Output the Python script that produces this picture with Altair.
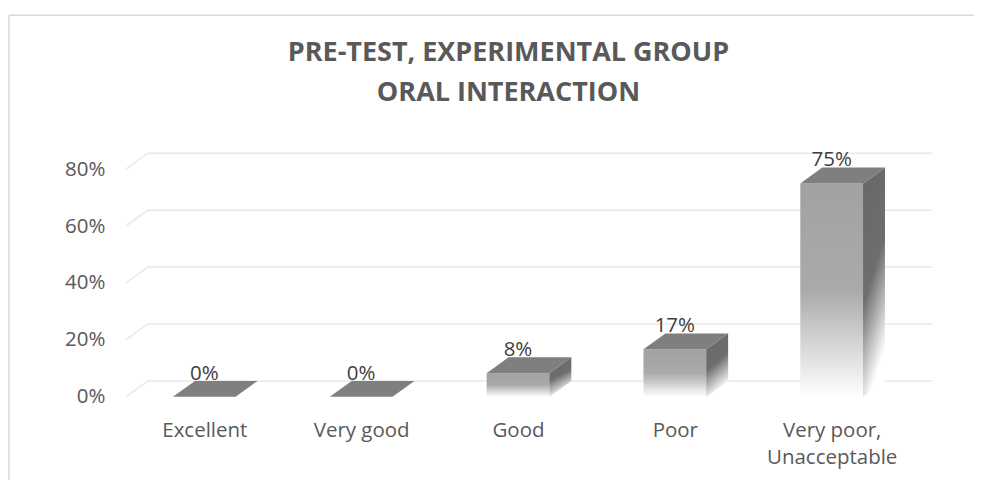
import altair as alt
import pandas as pd

# ---- data ----
categories = ["Excellent", "Very good", "Good", "Poor", "Very poor, Unacceptable"]
cat_lines = [["Excellent"], ["Very good"], ["Good"], ["Poor"], ["Very poor,", "Unacceptable"]]
values = [0.0, 0.0, 8.3, 16.7, 75.0]          # percent
value_labels = ["0%", "0%", "8%", "17%", "75%"]
grid_ticks = [0, 20, 40, 60, 80]
title_lines = ["PRE-TEST, EXPERIMENTAL GROUP", "ORAL INTERACTION"]

# ---- 3-D styling constants (in data units of the two scales) ----
DX = 0.14      # depth shift along x (category units)
DY = 5.6       # depth shift along y (percent units)
HW = 0.2       # half width of a column's front face
XDOM = [-0.5, 4.5 + DX]
YDOM = [0, 86]
W, H = 807, 245

FONT = "Open Sans"
LABEL_COLOR = "#595959"
FS = 20.5

idx = list(range(len(categories)))

front = pd.DataFrame({
    "cat": categories,
    "x0": [i - HW for i in idx],
    "x1": [i + HW for i in idx],
    "v": values,
})

side_rows, top_rows = [], []
for i, c, v in zip(idx, categories, values):
    side_rows.append({"cat": c, "x": i + HW, "lo": 0.0, "hi": v})
    side_rows.append({"cat": c, "x": i + HW + DX, "lo": DY, "hi": v + DY})
    top_rows.append({"cat": c, "y": v, "xa": i - HW, "xb": i + HW})
    top_rows.append({"cat": c, "y": v + DY, "xa": i - HW + DX, "xb": i + HW + DX})
side = pd.DataFrame(side_rows)
top = pd.DataFrame(top_rows)

labels = pd.DataFrame({"i": idx, "ly": [v + DY for v in values], "txt": value_labels})

grid = pd.DataFrame({
    "g": grid_ticks,
    "gb": [g + DY for g in grid_ticks],
    "xl": [XDOM[0]] * len(grid_ticks),
    "xlb": [XDOM[0] + DX] * len(grid_ticks),
    "xr": [4.5 + DX] * len(grid_ticks),
})

xs = alt.Scale(domain=XDOM, nice=False, zero=False)
ys = alt.Scale(domain=YDOM, nice=False, zero=False)

label_expr = "[" + ",".join("[" + ",".join("'" + s + "'" for s in l) + "]" for l in cat_lines) + "][datum.value]"

xaxis = alt.Axis(values=idx, labelExpr=label_expr, title=None, grid=False, ticks=False,
                 domain=False, labelFont=FONT, labelFontSize=FS, labelColor=LABEL_COLOR,
                 labelPadding=24, labelLineHeight=27, labelOverlap=False, labelBound=False,
                 labelFlush=False)
yaxis = alt.Axis(values=grid_ticks, labelExpr="datum.value + '%'", title=None, grid=False,
                 ticks=False, domain=False, labelFont=FONT, labelFontSize=FS,
                 labelColor=LABEL_COLOR, labelPadding=21)

grid_back = alt.Chart(grid).mark_rule(color="#e8e8e8", strokeWidth=1.5).encode(
    x=alt.X("xlb:Q", scale=xs, axis=xaxis), x2="xr:Q",
    y=alt.Y("gb:Q", scale=ys, axis=yaxis),
)
grid_diag = alt.Chart(grid).mark_rule(color="#e8e8e8", strokeWidth=1.5).encode(
    x=alt.X("xl:Q", scale=xs), x2="xlb:Q",
    y=alt.Y("g:Q", scale=ys), y2="gb:Q",
)

front_grad = alt.Gradient(gradient="linear", x1=0, y1=0, x2=0, y2=1, stops=[
    alt.GradientStop(offset=0, color="#a2a2a2"),
    alt.GradientStop(offset=0.5, color="#aaaaaa"),
    alt.GradientStop(offset=1, color="#ffffff"),
])
side_grad = alt.Gradient(gradient="linear", x1=0, y1=0, x2=0.3, y2=1, stops=[
    alt.GradientStop(offset=0, color="#676767"),
    alt.GradientStop(offset=0.55, color="#6e6e6e"),
    alt.GradientStop(offset=1, color="#ffffff"),
])

front_face = alt.Chart(front).mark_bar(fill=front_grad).encode(
    x=alt.X("x0:Q", scale=xs), x2="x1:Q",
    y=alt.Y("v:Q", scale=ys), y2=alt.datum(0),
)
side_face = alt.Chart(side).mark_area(fill=side_grad).encode(
    x=alt.X("x:Q", scale=xs),
    y=alt.Y("lo:Q", scale=ys), y2="hi:Q",
    detail="cat:N",
)
top_face = alt.Chart(top).mark_area(orient="horizontal", color="#7f7f7f").encode(
    y=alt.Y("y:Q", scale=ys),
    x=alt.X("xa:Q", scale=xs), x2="xb:Q",
    detail="cat:N",
)
value_text = alt.Chart(labels).mark_text(font=FONT, fontSize=FS, color="#404040",
                                          baseline="bottom", dy=3).encode(
    x=alt.X("i:Q", scale=xs), y=alt.Y("ly:Q", scale=ys), text="txt:N",
)

one = pd.DataFrame({"k": [0]})
frame_top = alt.Chart(one).mark_rule(color="#d9d9d9", strokeWidth=1.5).encode(
    x=alt.value(-117), x2=alt.value(849), y=alt.value(-137))
frame_left = alt.Chart(one).mark_rule(color="#d9d9d9", strokeWidth=1.5).encode(
    x=alt.value(-117), y=alt.value(-137), y2=alt.value(328))

title1 = alt.Chart(one).mark_text(font=FONT, fontSize=27, fontWeight="bold", color=LABEL_COLOR,
                                  baseline="middle", align="center").encode(
    x=alt.value(383), y=alt.value(-99), text=alt.value(title_lines[0]))
title2 = alt.Chart(one).mark_text(font=FONT, fontSize=27, fontWeight="bold", color=LABEL_COLOR,
                                  baseline="middle", align="center").encode(
    x=alt.value(383), y=alt.value(-59), text=alt.value(title_lines[1]))

chart = alt.layer(
    frame_top, frame_left, title1, title2, grid_diag, grid_back,
    front_face, side_face, top_face, value_text
).properties(
    width=W, height=H,
    padding={"left": 0, "top": 6, "right": 0, "bottom": 0},
).configure_view(stroke=None)

chart.save("out.html", embed_options={"renderer": "svg", "actions": False})
